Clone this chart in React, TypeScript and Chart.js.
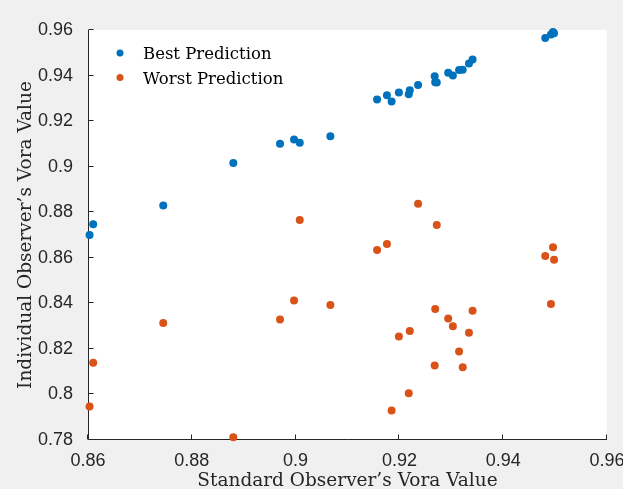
import { useEffect, useRef } from "react";
import { Chart, registerables } from "chart.js";

Chart.register(...registerables);

// Standard observer's Vora value (x) shared by both series
const standardVora = [
  0.8603, 0.861, 0.8745, 0.888, 0.897, 0.8997, 0.9008, 0.9067, 0.9157, 0.9176,
  0.9185, 0.9199, 0.9218, 0.922, 0.9236, 0.9268, 0.9269, 0.9272, 0.9294, 0.9303,
  0.9315, 0.9322, 0.9334, 0.9341, 0.9481, 0.9492, 0.9496, 0.9498,
];
const bestPrediction = [
  0.87, 0.8747, 0.8829, 0.9016, 0.9101, 0.9119, 0.9105, 0.9133, 0.9295, 0.9314,
  0.9286, 0.9326, 0.9318, 0.9336, 0.9358, 0.9397, 0.9371, 0.937, 0.9412, 0.94,
  0.9424, 0.9426, 0.9453, 0.9471, 0.9565, 0.958, 0.9591, 0.9586,
];
const worstPrediction = [
  0.7947, 0.8139, 0.8314, 0.7812, 0.8329, 0.8412, 0.8766, 0.8393, 0.8634, 0.866,
  0.7929, 0.8254, 0.8005, 0.8278, 0.8837, 0.8127, 0.8375, 0.8744, 0.8333, 0.8299,
  0.8188, 0.8119, 0.8271, 0.8367, 0.8608, 0.8397, 0.8646, 0.8591,
];
const xTicks = [0.86, 0.88, 0.9, 0.92, 0.94, 0.96];
const yTicks = [0.78, 0.8, 0.82, 0.84, 0.86, 0.88, 0.9, 0.92, 0.94, 0.96];
const seriesLabels = ["Best Prediction", "Worst Prediction"];
const seriesColors = ["#0072BD", "#D95319"];
const xTitle = "Standard Observer\u2019s Vora Value";
const yTitle = "Individual Observer\u2019s Vora Value";

const AXIS_COLOR = "#262626";
const SERIF = "'DejaVu Serif', serif";
const SANS = "'Liberation Sans', Arial, sans-serif";

const fmt = (v: number) => String(Number(v.toFixed(2)));

const figurePlugin = {
  id: "figure",
  beforeDraw(chart: any) {
    const { ctx, chartArea: a, width, height } = chart;
    ctx.save();
    ctx.fillStyle = "#f0f0f0";
    ctx.fillRect(0, 0, width, height);
    ctx.fillStyle = "#ffffff";
    ctx.fillRect(a.left, a.top, a.right - a.left, a.bottom - a.top);
    ctx.restore();
  },
  beforeDatasetsDraw(chart: any) {
    const { ctx, chartArea: a, scales } = chart;
    ctx.save();
    ctx.strokeStyle = AXIS_COLOR;
    ctx.lineWidth = 1;
    const L = Math.round(a.left) + 0.5;
    const B = Math.round(a.bottom) - 0.5;
    ctx.beginPath();
    ctx.moveTo(L, a.top);
    ctx.lineTo(L, B);
    ctx.lineTo(a.right, B);
    for (const v of yTicks) {
      const y = Math.round(scales.y.getPixelForValue(v)) - 0.5;
      ctx.moveTo(L, y);
      ctx.lineTo(L + 5, y);
    }
    for (const v of xTicks) {
      const x = Math.round(scales.x.getPixelForValue(v)) - 0.5;
      ctx.moveTo(x, B);
      ctx.lineTo(x, B - 5);
    }
    ctx.stroke();
    ctx.restore();
  },
  afterDraw(chart: any) {
    const { ctx, chartArea: a } = chart;
    ctx.save();
    ctx.font = `16.5px ${SERIF}`;
    ctx.textBaseline = "alphabetic";
    ctx.textAlign = "left";
    chart.data.datasets.forEach((ds: any, i: number) => {
      const cy = a.top + 23 + i * 24.5;
      ctx.fillStyle = ds.backgroundColor;
      ctx.beginPath();
      ctx.arc(a.left + 32, cy, 3.5, 0, Math.PI * 2);
      ctx.fill();
      ctx.fillStyle = "#000000";
      ctx.fillText(ds.label, a.left + 55, cy + 6);
    });
    ctx.restore();
  },
};

export default function App() {
  const ref = useRef<HTMLCanvasElement | null>(null);
  useEffect(() => {
    if (!ref.current) return;
    const chart = new Chart(ref.current, {
      type: "scatter",
      data: {
        datasets: [bestPrediction, worstPrediction].map((ys, i) => ({
          label: seriesLabels[i],
          data: standardVora.map((x, j) => ({ x, y: ys[j] })),
          backgroundColor: seriesColors[i],
          borderWidth: 0,
          pointRadius: 4,
          pointHoverRadius: 4,
          clip: false as any,
        })),
      },
      options: {
        animation: false,
        responsive: false,
        devicePixelRatio: 1,
        events: [],
        layout: { padding: { top: 30, right: 16, left: 0, bottom: 0 } },
        plugins: { legend: { display: false }, tooltip: { enabled: false } },
        scales: {
          x: {
            type: "linear",
            min: 0.86,
            max: 0.96,
            afterFit: (s: any) => {
              s.height = 49;
              s.paddingLeft = 0;
              s.paddingRight = 0;
            },
            afterBuildTicks: (s: any) => {
              s.ticks = xTicks.map((value) => ({ value }));
            },
            grid: { display: false },
            border: { display: false },
            ticks: {
              padding: 2,
              color: AXIS_COLOR,
              font: { family: SANS, size: 18 },
              maxRotation: 0,
              callback: (v: any) => fmt(Number(v)),
            },
            title: {
              display: true,
              text: xTitle,
              color: AXIS_COLOR,
              font: { family: SERIF, size: 18.5 },
              padding: { top: 0, bottom: -3 },
            },
          },
          y: {
            type: "linear",
            min: 0.78,
            max: 0.96,
            afterFit: (s: any) => {
              s.width = 88;
              s.paddingTop = 0;
              s.paddingBottom = 0;
            },
            afterBuildTicks: (s: any) => {
              s.ticks = yTicks.map((value) => ({ value }));
            },
            grid: { display: false },
            border: { display: false },
            ticks: {
              padding: 7,
              color: AXIS_COLOR,
              font: { family: SANS, size: 18 },
              callback: (v: any) => fmt(Number(v)),
            },
            title: {
              display: true,
              text: yTitle,
              color: AXIS_COLOR,
              font: { family: SERIF, size: 18.5 },
              padding: { top: 15, bottom: 0 },
            },
          },
        },
      },
      plugins: [figurePlugin],
    });
    return () => chart.destroy();
  }, []);
  return (
    <div style={{ position: "fixed", left: 0, top: 0, width: 623, height: 489 }}>
      <canvas ref={ref} width={623} height={489} />
    </div>
  );
}
